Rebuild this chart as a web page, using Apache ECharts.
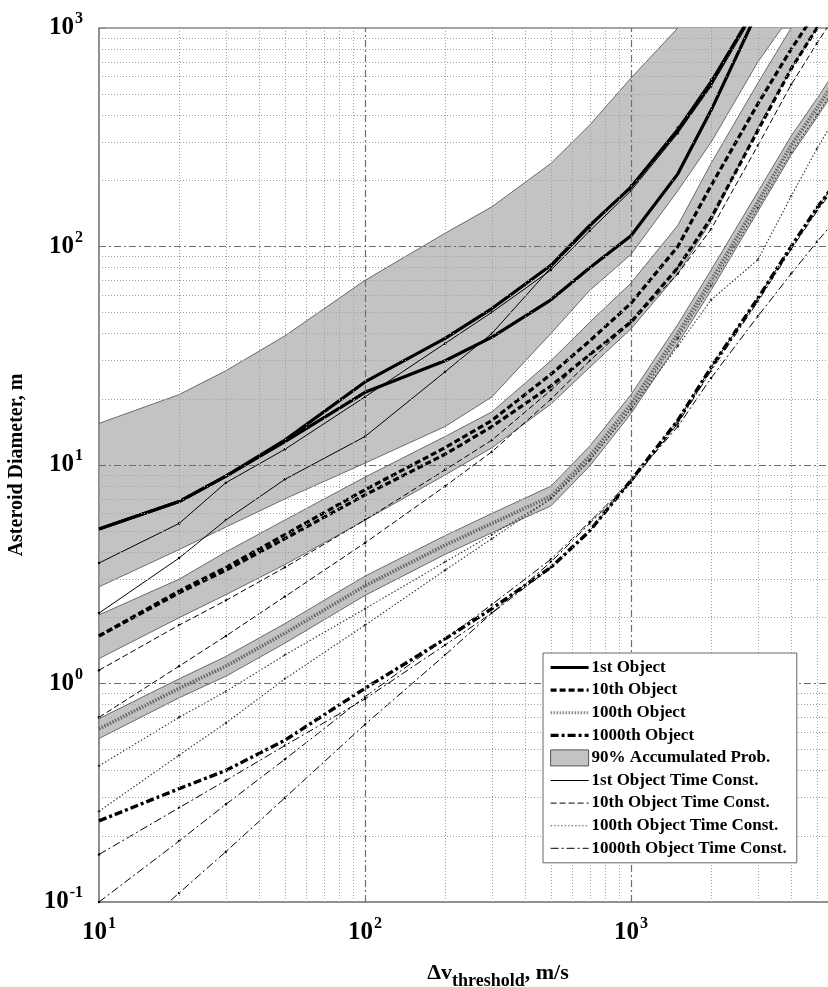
<!DOCTYPE html>
<html><head><meta charset="utf-8">
<script src="https://cdn.jsdelivr.net/npm/echarts@6/dist/echarts.min.js"></script>
<style>html,body{margin:0;padding:0;background:#fff}#c{width:828px;height:987px}</style>
</head><body><div id="c"></div>
<script>
// Shared Δv sample points (m/s)
const X = [10,20,30,50,100,200,300,500,700,1000,1500,2000,3000,4000,5000,7000,10000];

// 1st object (two Monte-Carlo curves)
const obj1A = [5.1,6.8,8.9,13,24,38,52,82,125,187,340,560,1300,null,null,null,null];
const obj1B = [5.1,6.8,8.9,12.8,21.5,30,38.5,57,80,112,215,420,1200,null,null,null,null];
// 10th object
const obj10A = [1.65,2.65,3.4,4.8,7.7,12,16,26,37,55,100,190,450,800,1200,null,null];
const obj10B = [1.65,2.6,3.3,4.6,7.3,11.2,15,23,32,45,80,135,340,650,1000,1900,null];
// 100th object
const obj100 = [0.62,0.95,1.2,1.7,2.8,4.3,5.4,7.2,11,19,40,70,160,290,430,800,1600];
// 1000th object
const obj1000 = [0.235,0.33,0.4,0.55,0.95,1.6,2.2,3.4,5.0,8.5,16,28,58,100,150,260,480];

// 90% accumulated probability bands
const band1Up = [15.5,21,27,39,70,115,152,240,360,590,1000,1500,null,null,null,null,null];
const band1Lo = [2.77,4.1,5.2,7.0,10.2,15,20.5,40,63,92,180,300,700,1150,null,null,null];
const band2Up = [2.06,3.0,4.0,5.6,8.8,13.5,17.5,30,45,68,125,240,560,1000,1500,null,null];
const band2Lo = [1.3,2.0,2.55,3.5,5.6,9,12,19,28,42,75,130,350,650,1000,1800,null];
const band3Up = [0.69,1.05,1.33,1.88,3.1,4.75,6.0,8.0,12.2,21,44,78,178,320,475,880,1760];
const band3Lo = [0.56,0.86,1.08,1.53,2.53,3.9,4.9,6.5,9.9,17.2,36,63,145,262,390,725,1450];

// Time-constrained curves
const tc1A = [3.56,5.4,8.3,11.8,20.5,36,50,78,118,180,330,540,1250,null,null,null,null];
const tc1B = [2.1,3.75,5.6,8.6,13.5,26.7,40,80,122,190,350,580,1300,null,null,null,null];
const tc10A = [1.15,1.85,2.4,3.4,5.6,9.5,13,22,32,46,80,135,340,650,1000,1900,null];
const tc10B = [0.7,1.2,1.65,2.5,4.4,8,11.5,20,30,45,75,120,290,550,850,1600,null];
const tc100A = [0.42,0.7,0.92,1.35,2.2,3.6,4.8,7.0,10.5,18,35,57,87,170,280,560,1100];
const tc100B = [0.26,0.47,0.66,1.05,1.85,3.3,4.6,7.0,10.5,18,38,66,150,270,400,750,1500];
const tc1000A = [0.165,0.27,0.36,0.52,0.85,1.5,2.1,3.4,5.0,8.5,15,25,48,75,105,170,300];
const tc1000B = [0.1,0.19,0.28,0.45,0.87,1.6,2.3,3.7,5.5,8.5,16,28,58,100,150,260,480];
const tc1000C = [0.052,0.11,0.17,0.3,0.65,1.35,2.1,3.6,5.4,8.3,15.5,27,56,97,145,250,460];

// Grid lines
const majorX = [100,1000];
const majorY = [1,10,100];
const minorX = [20,30,40,50,60,70,80,90,200,300,400,500,600,700,800,900,2000,3000,4000,5000,6000,7000,8000,9000];
const minorY = [0.2,0.3,0.4,0.5,0.6,0.7,0.8,0.9,2,3,4,5,6,7,8,9,20,30,40,50,60,70,80,90,200,300,400,500,600,700,800,900];

const legendNames = ['1st Object','10th Object','100th Object','1000th Object','90% Accumulated Prob.',
  '1st Object Time Const.','10th Object Time Const.','100th Object Time Const.','1000th Object Time Const.'];

function pairs(ys){const o=[];ys.forEach((y,i)=>{if(y!=null)o.push([X[i],y]);});return o;}

const SERIF = '"Liberation Serif","DejaVu Serif",serif';

function band(up, lo, name){
  const poly = pairs(up).concat(pairs(lo).reverse());
  return {
    type:'custom', name:name, z:1, clip:true, silent:true, animation:false,
    data: poly, encode:{x:0,y:1},
    renderItem:function(params, api){
      if(params.dataIndex!==0) return null;
      const pts = poly.map(p=>api.coord(p));
      return {type:'polygon', shape:{points:pts}, style:{fill:'#c3c3c3', stroke:'#6a6a6a', lineWidth:1}};
    }
  };
}
function line(ys, name, style, sym){
  return {
    type:'line', name:name, data:pairs(ys), z:3, animation:false,
    symbol: sym ? 'circle' : 'none', symbolSize: sym ? 2.5 : 0, showSymbol: !!sym,
    itemStyle:{color:style.color||'#000'},
    lineStyle:Object.assign({color:'#000'}, style), clip:true
  };
}

const gridLines = [];
minorX.forEach(v=>gridLines.push({xAxis:v, lineStyle:{type:[1,2], color:'#a0a0a0', width:1}}));
minorY.forEach(v=>gridLines.push({yAxis:v, lineStyle:{type:[1,2], color:'#a0a0a0', width:1}}));
majorX.forEach(v=>gridLines.push({xAxis:v, lineStyle:{type:[7,3,2,3], color:'#6e6e6e', width:1.2}}));
majorY.forEach(v=>gridLines.push({yAxis:v, lineStyle:{type:[7,3,2,3], color:'#6e6e6e', width:1.2}}));

const thickSolid = {width:3.2};
const thickDash = {width:3.2, type:[6,3]};
const thickDot = {width:3.6, type:[1.5,1.5], color:'#666'};
const thickDashDot = {width:3.4, type:[8,3,3,3]};
const thinSolid = {width:1};
const thinDash = {width:1, type:[6,3]};
const thinDot = {width:1.1, type:[1.5,2], color:'#333'};
const thinDashDot = {width:1, type:[8,3,2,3]};

const series = [
  {type:'line', name:'grid', data:[[10,0.1]], symbol:'none', lineStyle:{opacity:0}, z:2, silent:true, animation:false,
   markLine:{silent:true, symbol:'none', label:{show:false}, animation:false, data:gridLines}},
  band(band1Up, band1Lo, legendNames[4]),
  band(band2Up, band2Lo, legendNames[4]),
  band(band3Up, band3Lo, legendNames[4]),
  line(obj1A, legendNames[0], thickSolid),
  line(obj1B, legendNames[0], thickSolid),
  line(obj10A, legendNames[1], thickDash),
  line(obj10B, legendNames[1], thickDash),
  line(obj100, legendNames[2], thickDot),
  line(obj1000, legendNames[3], thickDashDot),
  line(tc1A, legendNames[5], thinSolid, true),
  line(tc1B, legendNames[5], thinSolid, true),
  line(tc10A, legendNames[6], thinDash, true),
  line(tc10B, legendNames[6], thinDash, true),
  line(tc100A, legendNames[7], thinDot, true),
  line(tc100B, legendNames[7], thinDot, true),
  line(tc1000A, legendNames[8], thinDashDot, true),
  line(tc1000B, legendNames[8], thinDashDot, true),
  line(tc1000C, legendNames[8], thinDashDot, true)
];

function expLabel(v){const e=Math.round(Math.log10(v));return '{b|10}{s|'+e+'}';}
const labelRich = {
  b:{fontFamily:SERIF, fontWeight:'bold', fontSize:25, color:'#000'},
  s:{fontFamily:SERIF, fontWeight:'bold', fontSize:16, color:'#000', padding:[0,0,18,1]}
};

const legendLine = {
  '1st Object':{width:3.2, color:'#000', type:'solid'},
  '10th Object':{width:3.2, color:'#000', type:[6,3]},
  '100th Object':{width:3, color:'#888', type:[1.5,1.5]},
  '1000th Object':{width:3.2, color:'#000', type:[8,3,3,3]},
  '1st Object Time Const.':{width:1, color:'#000', type:'solid'},
  '10th Object Time Const.':{width:1, color:'#000', type:[6,3]},
  '100th Object Time Const.':{width:1.1, color:'#555', type:[1.5,2]},
  '1000th Object Time Const.':{width:1, color:'#000', type:[8,3,2,3]}
};

const chart = echarts.init(document.getElementById('c'), null, {renderer:'canvas'});
chart.setOption({
  backgroundColor:'#fff',
  animation:false,
  grid:{left:99, top:28, width:798, height:874, show:true, borderColor:'#888', borderWidth:1.5,
        backgroundColor:'transparent', outerBoundsMode:'none', containLabel:false},
  xAxis:{type:'log', logBase:10, min:10, max:10000, splitNumber:3,
    axisLine:{show:true, lineStyle:{color:'#888', width:1.5}},
    axisTick:{show:true, inside:true, length:7, lineStyle:{color:'#888'}},
    splitLine:{show:false},
    axisLabel:{formatter:expLabel, rich:labelRich, margin:14},
    name:'{a|Δv}{c|threshold}{a|, m/s}', nameLocation:'middle', nameGap:54,
    nameTextStyle:{rich:{
      a:{fontFamily:SERIF, fontWeight:'bold', fontSize:22, color:'#000'},
      c:{fontFamily:SERIF, fontWeight:'bold', fontSize:18, color:'#000', padding:[16,0,0,0]}
    }}
  },
  yAxis:{type:'log', logBase:10, min:0.1, max:1000, splitNumber:4,
    axisLine:{show:true, lineStyle:{color:'#888', width:1.5}},
    axisTick:{show:true, inside:true, length:7, lineStyle:{color:'#888'}},
    splitLine:{show:false},
    axisLabel:{formatter:expLabel, rich:labelRich, margin:16},
    name:'Asteroid Diameter, m', nameLocation:'middle', nameGap:72, nameRotate:90,
    nameTextStyle:{fontFamily:SERIF, fontWeight:'bold', fontSize:20, color:'#000'}
  },
  legend:{
    orient:'vertical', left:543, top:653, z:20,
    backgroundColor:'#fff', borderColor:'#666', borderWidth:1, borderRadius:0,
    padding:[6,10,6,6], itemGap:5.6, itemWidth:38, itemHeight:16,
    textStyle:{fontFamily:SERIF, fontWeight:'bold', fontSize:17, color:'#000', padding:[0,0,0,-2]},
    selectedMode:false,
    itemStyle:{opacity:0},
    data:legendNames.map(n=> n===legendNames[4]
      ? {name:n, icon:'rect', itemStyle:{color:'#c3c3c3', borderColor:'#555', borderWidth:1, opacity:1}}
      : {name:n, lineStyle:legendLine[n]})
  },
  series:series
});
</script>
</body></html>
